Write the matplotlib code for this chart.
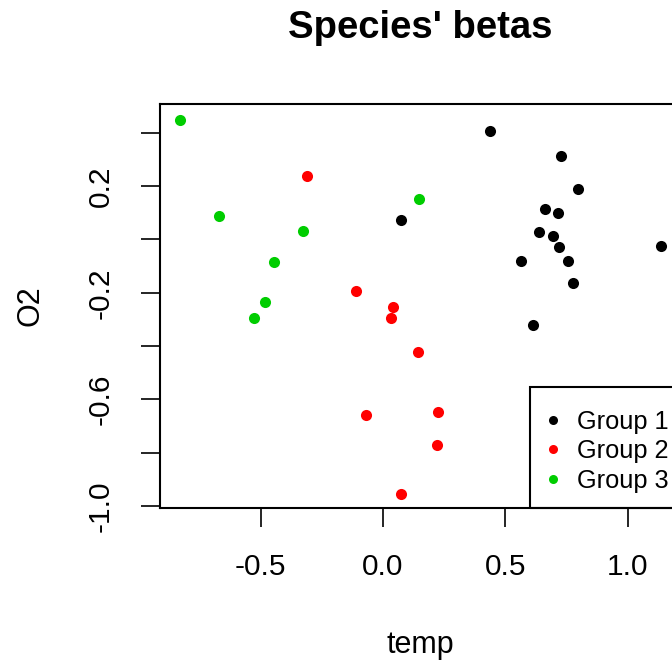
import matplotlib
matplotlib.use("Agg")
import matplotlib.pyplot as plt
from matplotlib.lines import Line2D
from matplotlib.patches import Rectangle

plt.rcParams['font.family'] = ['Liberation Sans', 'DejaVu Sans']

# Group 1 (black)
g1_x = [0.437, 0.727, 0.796, 0.662, 0.717, 0.638, 0.696, 0.721, 1.136, 0.565, 0.757, 0.778, 0.613, 0.075]
g1_y = [0.408, 0.313, 0.188, 0.113, 0.101, 0.028, 0.012, -0.027, -0.024, -0.082, -0.082, -0.162, -0.322, 0.072]
# Group 2 (red)
g2_x = [-0.312, -0.112, 0.040, 0.033, 0.144, -0.069, 0.224, 0.219, 0.074]
g2_y = [0.238, -0.193, -0.252, -0.293, -0.422, -0.659, -0.648, -0.771, -0.955]
# Group 3 (green)
g3_x = [-0.830, 0.146, -0.670, -0.328, -0.445, -0.482, -0.527]
g3_y = [0.449, 0.152, 0.089, 0.033, -0.083, -0.233, -0.296]

groups = ["Group 1", "Group 2", "Group 3"]
colors = ["black", "#FF0000", "#00CD00"]
x_ticks = [-0.5, 0.0, 0.5, 1.0]
x_ticklabels = ["-0.5", "0.0", "0.5", "1.0"]
y_ticks = [-1.0, -0.8, -0.6, -0.4, -0.2, 0.0, 0.2, 0.4]
y_ticklabels = ["-1.0", "", "-0.6", "", "-0.2", "", "0.2", ""]

W, H = 672, 666
fig = plt.figure(figsize=(W / 100, H / 100), dpi=100)
L, R, T, B = 160, 680, 104, 508
ax = fig.add_axes([L / W, 1 - B / H, (R - L) / W, (B - T) / H])

for xs, ys, c in zip([g1_x, g2_x, g3_x], [g1_y, g2_y, g3_y], colors):
    ax.plot(xs, ys, 'o', color=c, markersize=8, markeredgewidth=0, linestyle='none')

ax.set_xlim(-0.911, 1.2137)
ax.set_ylim(-1.007, 0.508)

ax.set_xticks(x_ticks)
ax.set_xticklabels(x_ticklabels)
ax.set_yticks(y_ticks)
ax.set_yticklabels(y_ticklabels, rotation=90, va='center')
ax.tick_params(axis='both', direction='out', length=13.5, width=1.2, labelsize=21.5, pad=19)
for s in ax.spines.values():
    s.set_linewidth(1.5)

fig.text(420 / W, 1 - 28 / H, "Species' betas", ha='center', va='center', fontsize=27.5, fontweight='bold')
fig.text(420 / W, 1 - 645 / H, "temp", ha='center', va='center', fontsize=22)
fig.text(30 / W, 1 - 306 / H, "O2", ha='center', va='center', fontsize=22, rotation=90)

handles = [Line2D([], [], marker='o', linestyle='none', color=c, markersize=6.5, markeredgewidth=0) for c in colors]
leg = ax.legend(handles, groups, loc='lower right', bbox_to_anchor=(1 + 4 / (R - L), 0), borderaxespad=0,
                fontsize=18.3, frameon=False,
                handletextpad=0.35, labelspacing=0.22, borderpad=0.6, handlelength=1.2)

# legend frame (R-style box anchored to the bottom-right corner of the plot region)
fig.patches.append(Rectangle((530 / W, 1 - B / H), (R - 530) / W, (B - 387) / H,
                             transform=fig.transFigure, fill=False, edgecolor='black',
                             linewidth=1.5, zorder=5))

fig.savefig("out.png", dpi=100)
